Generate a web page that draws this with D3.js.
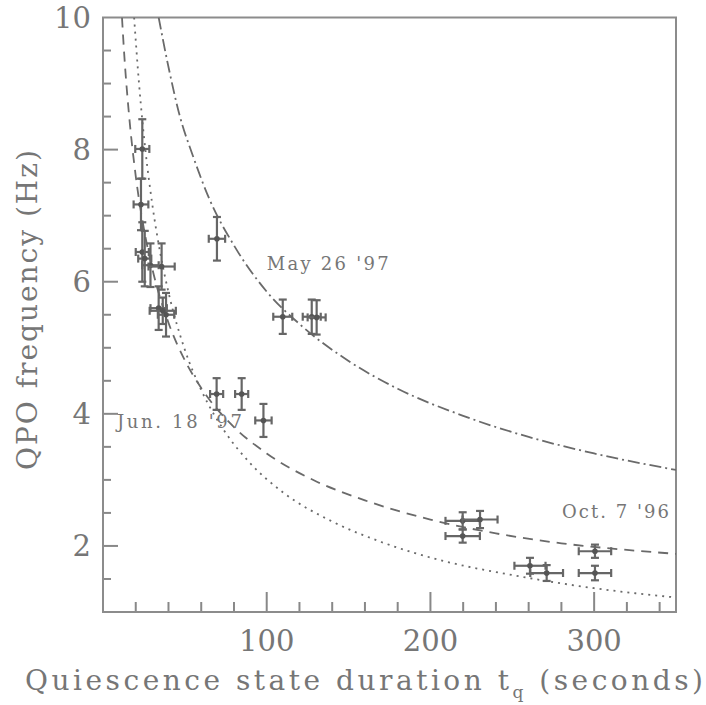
<!DOCTYPE html>
<html>
<head>
<meta charset="utf-8">
<script src="https://cdn.jsdelivr.net/npm/d3@7"></script>
<style>
  body { margin: 0; background: #fff; }
</style>
</head>
<body>
<div id="chart"></div>
<script>
// data: t = quiescence duration (s), f = QPO frequency (Hz)
const may26 = [
  {t: 69.6, f: 6.65, dt: 5, df: 0.33},
  {t: 109.8, f: 5.47, dt: 5.8, df: 0.26},
  {t: 127.5, f: 5.47, dt: 5.5, df: 0.26},
  {t: 130.5, f: 5.46, dt: 5.5, df: 0.26}
];
const jun18 = [
  {t: 24.0, f: 8.01, dt: 4.3, df: 0.45},
  {t: 23.2, f: 7.17, dt: 4.5, df: 0.39},
  {t: 24.0, f: 6.45, dt: 4, df: 0.45},
  {t: 25.5, f: 6.35, dt: 4, df: 0.42},
  {t: 29.0, f: 6.25, dt: 5, df: 0.33},
  {t: 35.8, f: 6.23, dt: 8, df: 0.35},
  {t: 34.0, f: 5.6, dt: 5, df: 0.33},
  {t: 38.5, f: 5.5, dt: 5, df: 0.33},
  {t: 36.5, f: 5.56, dt: 8, df: 0.2},
  {t: 69.4, f: 4.30, dt: 4, df: 0.24},
  {t: 84.7, f: 4.30, dt: 4, df: 0.24},
  {t: 98.0, f: 3.90, dt: 5, df: 0.25}
];
const oct7 = [
  {t: 219.7, f: 2.38, dt: 10.5, df: 0.13},
  {t: 230.3, f: 2.40, dt: 10.7, df: 0.13},
  {t: 219.7, f: 2.15, dt: 10.5, df: 0.10},
  {t: 260.8, f: 1.70, dt: 9.5, df: 0.12},
  {t: 271.0, f: 1.59, dt: 10, df: 0.12},
  {t: 300.5, f: 1.92, dt: 9.9, df: 0.10},
  {t: 300.5, f: 1.59, dt: 9.9, df: 0.11}
];

// fitted curves
const may26Curve = [[34, 10.0], [40, 9.25], [47, 8.5], [55, 7.9], [65, 7.25], [80, 6.55], [100, 5.85],
  [120, 5.36], [150, 4.8], [180, 4.38], [220, 3.97], [260, 3.65], [300, 3.4], [350, 3.15]];
const oct7Curve = [[11.6, 10.0], [13, 9.43], [16, 8.5], [20, 7.6], [25, 6.8], [30, 6.21], [40, 5.38],
  [50, 4.81], [60, 4.39], [80, 3.8], [100, 3.4], [130, 2.98], [160, 2.69], [200, 2.40], [240, 2.19],
  [280, 2.04], [320, 1.94], [350, 1.88]];
const jun18Curve = [[19, 10.0], [22, 9.0], [26, 7.97], [30, 7.19], [35, 6.43], [40, 5.84], [50, 4.97],
  [60, 4.36], [75, 3.71], [90, 3.25], [110, 2.81], [140, 2.37], [170, 2.06], [210, 1.76], [250, 1.56],
  [300, 1.36], [350, 1.22]];

const labels = [
  {text: "May 26 '97", t: 100, f: 6.18, len: 122},
  {text: "Jun. 18 '97", t: 8.5, f: 3.79, len: 125},
  {text: "Oct. 7 '96", t: 280.4, f: 2.43, len: 107}
];

const xTicks = [100, 200, 300];
const yTicks = [2, 4, 6, 8, 10];

const width = 706, height = 705;
const font = "'DejaVu Serif', 'Liberation Serif', serif";
const textCol = "#767676";

const svg = d3.select("#chart").append("svg")
  .attr("width", width)
  .attr("height", height)
  .attr("font-family", font);

svg.append("rect").attr("width", width).attr("height", height).attr("fill", "#fff");

const x = d3.scaleLinear().domain([0, 350]).range([103, 676]);
const y = d3.scaleLinear().domain([1, 10]).range([612, 17.5]);

svg.append("clipPath").attr("id", "plot")
  .append("rect")
  .attr("x", x(0)).attr("y", y(10))
  .attr("width", x(350) - x(0)).attr("height", y(1) - y(10));

// ticks (inside the frame, bottom and left only)
const tickCol = "#888";
svg.append("g").selectAll("line")
  .data(d3.range(20, 350, 20))
  .join("line")
  .attr("x1", d => x(d)).attr("x2", d => x(d))
  .attr("y1", y(1)).attr("y2", d => y(1) - (d % 100 === 0 ? 20 : 10))
  .attr("stroke", tickCol).attr("stroke-width", 2);

svg.append("g").selectAll("line")
  .data(d3.range(1.5, 10, 0.5))
  .join("line")
  .attr("y1", d => y(d)).attr("y2", d => y(d))
  .attr("x1", x(0)).attr("x2", d => x(0) + (d % 2 === 0 ? 15 : 8))
  .attr("stroke", tickCol).attr("stroke-width", 2);

// frame
svg.append("rect")
  .attr("x", x(0)).attr("y", y(10))
  .attr("width", x(350) - x(0)).attr("height", y(1) - y(10))
  .attr("fill", "none").attr("stroke", "#8c8c8c").attr("stroke-width", 2);

// tick labels
svg.append("g").selectAll("text")
  .data(xTicks)
  .join("text")
  .attr("x", d => x(d)).attr("y", 651)
  .attr("text-anchor", "middle")
  .attr("fill", textCol)
  .style("font-size", "29px")
  .text(d => d);

svg.append("g").selectAll("text")
  .data(yTicks)
  .join("text")
  .attr("x", 91).attr("y", d => y(d))
  .attr("dy", "0.36em")
  .attr("text-anchor", "end")
  .attr("fill", textCol)
  .style("font-size", "29px")
  .text(d => d);

// axis titles
const xt = svg.append("text")
  .attr("x", 25).attr("y", 690)
  .attr("textLength", 678)
  .attr("fill", textCol)
  .style("font-size", "28px");
xt.append("tspan").text("Quiescence state duration t");
xt.append("tspan").attr("dy", 8).style("font-size", "17px").text("q");
xt.append("tspan").attr("dy", -8).text(" (seconds)");

svg.append("text")
  .attr("transform", "translate(37,470) rotate(-90)")
  .attr("textLength", 320)
  .attr("fill", textCol)
  .style("font-size", "28px")
  .text("QPO frequency (Hz)");

// model curves
const line = d3.line()
  .x(d => x(d[0])).y(d => y(d[1]))
  .curve(d3.curveMonotoneX);

const curves = svg.append("g").attr("clip-path", "url(#plot)")
  .attr("fill", "none").attr("stroke", "#6a6a6a").attr("stroke-width", 1.8);

curves.append("path").attr("d", line(may26Curve)).attr("stroke-dasharray", "12,4,2,4");
curves.append("path").attr("d", line(oct7Curve)).attr("stroke-dasharray", "10,7");
curves.append("path").attr("d", line(jun18Curve)).attr("stroke-dasharray", "2,5");

// data points with error bars
const pts = svg.append("g").attr("stroke", "#666").attr("stroke-width", 2.2);
const cap = 4;

[may26, jun18, oct7].forEach(series => {
  const g = pts.append("g").selectAll("g").data(series).join("g");
  // vertical bar
  g.append("line")
    .attr("x1", d => x(d.t)).attr("x2", d => x(d.t))
    .attr("y1", d => y(d.f - d.df)).attr("y2", d => y(d.f + d.df));
  g.append("line")
    .attr("x1", d => x(d.t) - cap).attr("x2", d => x(d.t) + cap)
    .attr("y1", d => y(d.f + d.df)).attr("y2", d => y(d.f + d.df));
  g.append("line")
    .attr("x1", d => x(d.t) - cap).attr("x2", d => x(d.t) + cap)
    .attr("y1", d => y(d.f - d.df)).attr("y2", d => y(d.f - d.df));
  // horizontal bar
  g.append("line")
    .attr("x1", d => x(d.t - d.dt)).attr("x2", d => x(d.t + d.dt))
    .attr("y1", d => y(d.f)).attr("y2", d => y(d.f));
  g.append("line")
    .attr("x1", d => x(d.t - d.dt)).attr("x2", d => x(d.t - d.dt))
    .attr("y1", d => y(d.f) - cap).attr("y2", d => y(d.f) + cap);
  g.append("line")
    .attr("x1", d => x(d.t + d.dt)).attr("x2", d => x(d.t + d.dt))
    .attr("y1", d => y(d.f) - cap).attr("y2", d => y(d.f) + cap);
  g.append("circle")
    .attr("cx", d => x(d.t)).attr("cy", d => y(d.f))
    .attr("r", 2.8).attr("fill", "#555").attr("stroke", "none");
});

// curve labels
svg.append("g").selectAll("text")
  .data(labels)
  .join("text")
  .attr("x", d => x(d.t)).attr("y", d => y(d.f))
  .attr("textLength", d => d.len)
  .attr("fill", textCol)
  .style("font-size", "18px")
  .text(d => d.text);
</script>
</body>
</html>
